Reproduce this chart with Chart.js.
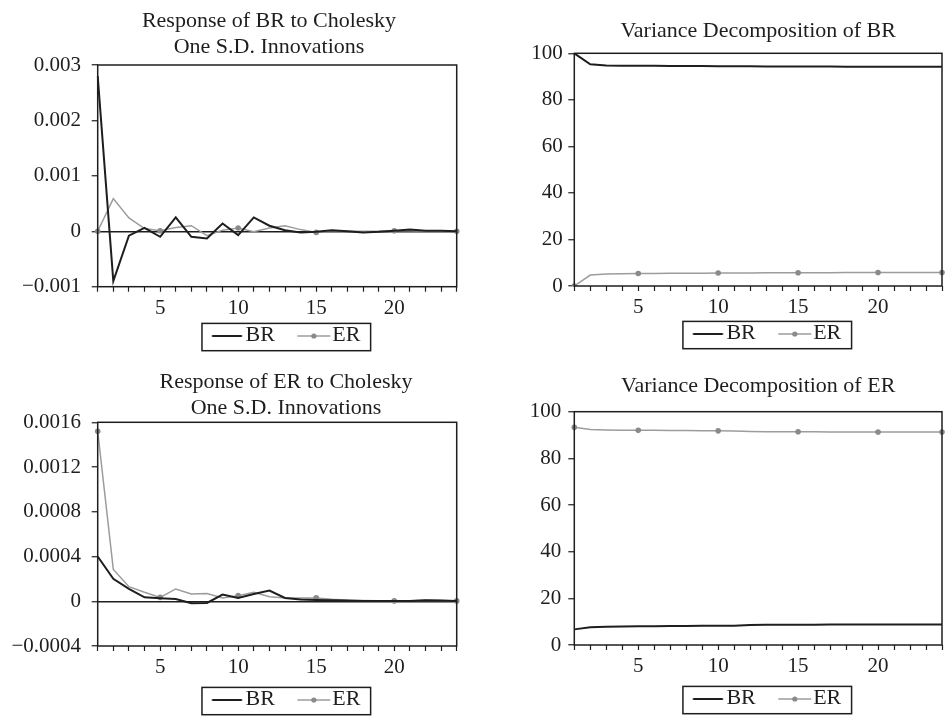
<!DOCTYPE html>
<html><head><meta charset="utf-8">
<script src="https://cdn.jsdelivr.net/npm/chart.js@4.4.1/dist/chart.umd.min.js"></script>
<style>
html,body{margin:0;padding:0;background:#fff;overflow:hidden;width:946px;height:721px;position:relative;}
canvas{position:absolute;}
</style>
</head><body>
<canvas id="c1"></canvas>
<canvas id="c2"></canvas>
<canvas id="c3"></canvas>
<canvas id="c4"></canvas>
<script>
// ---------------- data ----------------
const periods = [1,2,3,4,5,6,7,8,9,10,11,12,13,14,15,16,17,18,19,20,21,22,23,24];
const xLabeledPeriods = [5,10,15,20];
const markerPeriods = [1,5,10,15,20,24];
const seriesNames = ['BR','ER'];

const titleIrfBR = ['Response of BR to Cholesky','One S.D. Innovations'];
const titleVdBR = 'Variance Decomposition of BR';
const titleIrfER = ['Response of ER to Cholesky','One S.D. Innovations'];
const titleVdER = 'Variance Decomposition of ER';

// Response of BR
const irfBR_BR = [0.00280,-0.00090,-0.00008,0.00006,-0.00010,0.00025,-0.00010,-0.00013,0.00014,-0.00007,0.00025,0.00010,0.00002,-0.00002,-0.00001,0.00002,0.00000,-0.00002,-0.00001,0.00001,0.00003,0.00001,0.00001,0.00000];
const irfBR_ER = [0.00000,0.00059,0.00024,0.00005,0.00001,0.00007,0.00010,-0.00008,0.00002,0.00006,-0.00001,0.00006,0.00010,0.00003,-0.00002,0.00001,0.00000,0.00000,0.00000,0.00001,0.00001,0.00000,0.00000,0.00000];
// Response of ER
const irfER_BR = [0.00040,0.00020,0.00011,0.000035,0.000026,0.00002,-0.000018,-0.000015,0.00006,0.00003,0.000065,0.000095,0.00003,0.000015,0.000012,0.00001,0.000006,0.000003,0.000003,0.000003,0.000003,0.00001,0.000006,0.000002];
const irfER_ER = [0.00152,0.000285,0.00013,0.00008,0.000035,0.00011,0.000065,0.00007,0.00003,0.00005,0.00008,0.00004,0.00003,0.00003,0.00003,0.000018,0.00001,0.000006,0.000004,0.000003,0.000005,0.00001,0.000006,0.000003];
// Variance decomposition of BR
const vdBR_BR = [100,95.3,94.8,94.7,94.6,94.6,94.5,94.5,94.5,94.4,94.4,94.4,94.3,94.3,94.3,94.3,94.3,94.2,94.2,94.2,94.2,94.2,94.2,94.2];
const vdBR_ER = [0,4.7,5.2,5.3,5.4,5.4,5.5,5.5,5.5,5.6,5.6,5.6,5.7,5.7,5.7,5.7,5.7,5.8,5.8,5.8,5.8,5.8,5.8,5.8];
// Variance decomposition of ER
const vdER_BR = [6.7,7.6,7.8,7.9,8.0,8.0,8.1,8.1,8.2,8.2,8.3,8.6,8.7,8.7,8.7,8.7,8.8,8.8,8.8,8.8,8.8,8.8,8.8,8.8];
const vdER_ER = [93.3,92.4,92.2,92.1,92.0,92.0,91.9,91.9,91.8,91.8,91.7,91.5,91.4,91.4,91.4,91.4,91.3,91.3,91.3,91.3,91.3,91.3,91.3,91.3];

// y ticks
const yTicksIrfBR = [-0.001,0,0.001,0.002,0.003];
const yLabelsIrfBR = ['\u22120.001','0','0.001','0.002','0.003'];
const yTicksIrfER = [-0.0004,0,0.0004,0.0008,0.0012,0.0016];
const yLabelsIrfER = ['\u22120.0004','0','0.0004','0.0008','0.0012','0.0016'];
const yTicksVd = [0,20,40,60,80,100];
const yLabelsVd = ['0','20','40','60','80','100'];

// ---------------- style ----------------
const INK = '#1e1e1e';
const GRAY = '#9c9c9c';
const GRAY_PT = '#8a8a8a';
const FONT = "'Liberation Serif', 'DejaVu Serif', serif";
Chart.defaults.font.family = FONT;
Chart.defaults.color = INK;

const LEG_FONT = 22, LEG_PAD = 6, BW = 40.4, IMG_W = 62;
const legendSamples = [
  {color: INK, width: 2, len: 30, gap: 3.3, dot: false},
  {color: GRAY, width: 1.5, len: 33, gap: 1.7, dot: true}
];
function sampleImage(s) {
  const c = document.createElement('canvas');
  c.width = IMG_W; c.height = 12;
  const g = c.getContext('2d');
  const x1 = IMG_W - s.gap, x0 = x1 - s.len;
  g.strokeStyle = s.color; g.lineWidth = s.width;
  g.beginPath(); g.moveTo(x0, 7); g.lineTo(x1, 7); g.stroke();
  if (s.dot) { g.fillStyle = GRAY_PT; g.beginPath(); g.arc((x0 + x1) / 2, 7, 2.6, 0, Math.PI * 2); g.fill(); }
  return c;
}
const sampleImgs = legendSamples.map(sampleImage);

const framePlugin = {
  id: 'frame',
  afterDraw(chart) {
    const {ctx, chartArea: a} = chart;
    ctx.save();
    ctx.strokeStyle = INK; ctx.lineWidth = 1.5;
    ctx.strokeRect(a.left, a.top, a.right - a.left, a.bottom - a.top);
    const hb = chart.legend && chart.legend.legendHitBoxes;
    if (hb && hb.length === 2) {
      const cy = hb[0].top + LEG_FONT / 2;
      const s0 = legendSamples[0];
      const lineStart = hb[0].left + BW / 2 - IMG_W / 2 + (IMG_W - s0.gap - s0.len);
      const x0 = lineStart - 10;
      const x1 = hb[1].left + hb[1].width + 10.3;
      ctx.lineWidth = 1.5;
      ctx.strokeRect(x0, cy - 11.6, x1 - x0, 27.3);
    }
    ctx.restore();
  }
};

function makeChart(id, cfg) {
  const cv = document.getElementById(id);
  cv.width = cfg.W; cv.height = cfg.H;
  cv.style.left = cfg.left + 'px'; cv.style.top = cfg.top + 'px';
  const legendH = LEG_FONT + 2 * LEG_PAD;
  const xH = cfg.H - legendH - cfg.plotBottom;
  new Chart(cv, {
    type: 'line',
    data: {
      labels: periods,
      datasets: [
        {label: seriesNames[0], data: cfg.br, borderColor: INK, borderWidth: 2, pointRadius: 0, tension: 0},
        {label: seriesNames[1], data: cfg.er, borderColor: GRAY, borderWidth: 1.5, tension: 0,
         pointRadius: c => markerPeriods.includes(periods[c.dataIndex]) ? 2.8 : 0,
         pointBackgroundColor: GRAY_PT, pointBorderWidth: 0}
      ]
    },
    options: {
      responsive: false, animation: false,
      layout: {padding: 0},
      events: [],
      plugins: {
        tooltip: {enabled: false},
        title: {
          display: true, text: cfg.title, fullSize: cfg.fullTitle, color: INK,
          font: {size: 22, weight: 'normal', lineHeight: 1.2, family: FONT},
          padding: {top: cfg.tT, bottom: cfg.tB}
        },
        legend: {
          display: true, position: 'bottom', fullSize: false,
          labels: {
            usePointStyle: true, pointStyleWidth: BW, padding: LEG_PAD, color: INK,
            font: {size: LEG_FONT, family: FONT},
            generateLabels: chart => chart.data.datasets.map((ds, i) => ({
              text: ds.label, pointStyle: sampleImgs[i], datasetIndex: i,
              fillStyle: 'transparent', strokeStyle: 'transparent', lineWidth: 0, hidden: false, fontColor: INK
            }))
          }
        }
      },
      scales: {
        x: {
          type: 'category',
          grid: {drawOnChartArea: false, tickLength: 5, tickColor: INK, tickWidth: 1.2, offset: false},
          border: {display: false},
          ticks: {autoSkip: false, maxRotation: 0, padding: 4, color: INK, font: {size: 21},
            callback: (v, i) => xLabeledPeriods.includes(periods[i]) ? String(periods[i]) : ''},
          afterFit: s => { s.height = xH; }
        },
        y: {
          type: 'linear', position: 'left', min: cfg.yVals[0], max: cfg.yVals[cfg.yVals.length - 1],
          afterBuildTicks: s => { s.ticks = cfg.yVals.map(v => ({value: v})); },
          grid: {
            drawOnChartArea: cfg.zeroLine,
            color: c => (cfg.zeroLine && c.tick && c.tick.value === 0) ? INK : 'rgba(0,0,0,0)',
            lineWidth: 1.5, tickLength: 6, tickColor: INK, tickWidth: 1.2
          },
          border: {display: false},
          ticks: {padding: cfg.yPad, color: INK, font: {size: 21}, callback: (v, i) => cfg.yLabels[i]},
          afterFit: s => { s.width = cfg.plotL; }
        },
        yR: {
          type: 'linear', position: 'right', display: true,
          grid: {display: false}, border: {display: false}, ticks: {display: false},
          afterFit: s => { s.width = cfg.W - cfg.plotR; }
        }
      }
    },
    plugins: [framePlugin]
  });
}

makeChart('c1', {left: 0, top: 0, W: 538, H: 356, plotL: 97.7, plotR: 456.7, plotBottom: 290.7,
  tT: 7.7, tB: 4.5, fullTitle: true, title: titleIrfBR, br: irfBR_BR, er: irfBR_ER,
  yVals: yTicksIrfBR, yLabels: yLabelsIrfBR, yPad: 10.7, zeroLine: true});
makeChart('c2', {left: 470, top: 0, W: 476, H: 354, plotL: 104.3, plotR: 475, plotBottom: 290,
  tT: 17.7, tB: 9.2, fullTitle: false, title: titleVdBR, br: vdBR_BR, er: vdBR_ER,
  yVals: yTicksVd, yLabels: yLabelsVd, yPad: 5.6, zeroLine: false});
makeChart('c3', {left: 0, top: 360, W: 572, H: 360, plotL: 97.7, plotR: 456.7, plotBottom: 290,
  tT: 8.7, tB: 0.8, fullTitle: true, title: titleIrfER, br: irfER_BR, er: irfER_ER,
  yVals: yTicksIrfER, yLabels: yLabelsIrfER, yPad: 10.7, zeroLine: true});
makeChart('c4', {left: 470, top: 360, W: 476, H: 359, plotL: 104.3, plotR: 475, plotBottom: 289,
  tT: 12.7, tB: 12.6, fullTitle: false, title: titleVdER, br: vdER_BR, er: vdER_ER,
  yVals: yTicksVd, yLabels: yLabelsVd, yPad: 7, zeroLine: false});
</script>
</body></html>
